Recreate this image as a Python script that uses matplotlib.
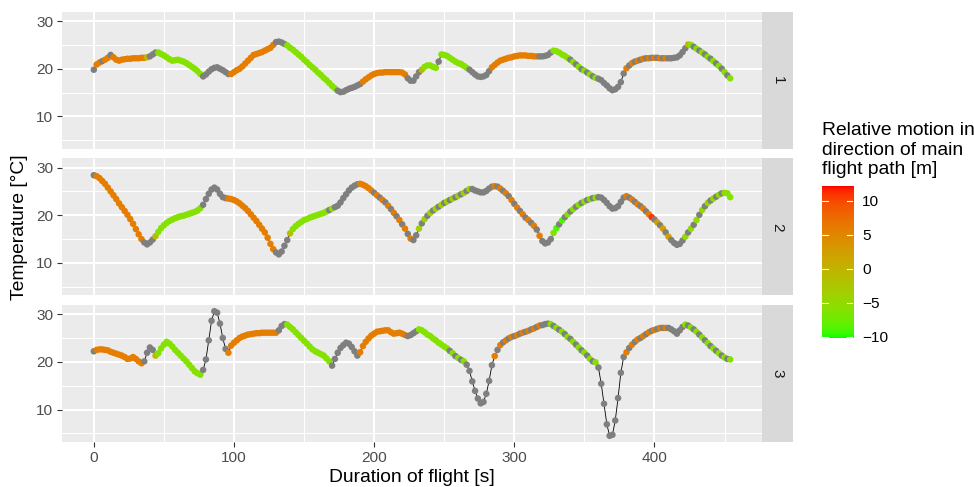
import numpy as np
import matplotlib
matplotlib.use("Agg")
import matplotlib.pyplot as plt
import matplotlib.colors as mcolors

plt.rcParams['font.family'] = ['Liberation Sans', 'DejaVu Sans']

# ---------------- data ----------------
time_s = list(range(0, 455, 2))
flights = ["1", "2", "3"]

temp_1 = [19.8, 20.9, 21.3, 21.6, 21.9, 22.3, 22.9, 22.4, 21.9, 21.7, 21.9, 22.0, 22.1, 22.1, 22.2, 22.2,
          22.2, 22.3, 22.3, 22.4, 22.6, 23.0, 23.4, 23.4, 23.1, 22.8, 22.4, 22.0, 21.7, 21.8, 21.9, 21.7,
          21.5, 21.2, 20.8, 20.4, 20.0, 19.5, 18.9, 18.4, 18.8, 19.4, 19.9, 20.2, 20.3, 20.0, 19.7, 19.3,
          18.9, 18.9, 19.3, 19.7, 20.0, 20.5, 21.1, 21.7, 22.3, 22.9, 23.1, 23.3, 23.5, 23.8, 24.1, 24.4,
          25.0, 25.6, 25.7, 25.5, 25.2, 24.9, 24.4, 24.0, 23.5, 23.0, 22.5, 21.9, 21.4, 20.8, 20.3, 19.8,
          19.2, 18.7, 18.1, 17.6, 17.0, 16.4, 15.9, 15.4, 15.1, 15.2, 15.5, 15.8, 16.0, 16.2, 16.5, 16.8,
          17.3, 17.8, 18.2, 18.6, 18.9, 19.1, 19.2, 19.2, 19.3, 19.3, 19.3, 19.3, 19.3, 19.3, 19.2, 18.8,
          18.0, 17.5, 17.5, 18.4, 19.3, 19.8, 20.4, 20.7, 20.7, 20.4, 20.2, 21.5, 23.0, 22.9, 22.7, 22.3,
          21.9, 21.5, 21.2, 21.0, 20.6, 20.2, 19.8, 19.3, 18.8, 18.4, 18.3, 18.4, 18.7, 19.5, 20.3, 20.8,
          21.3, 21.7, 21.9, 22.1, 22.3, 22.4, 22.6, 22.7, 22.8, 22.8, 22.8, 22.7, 22.7, 22.6, 22.6, 22.6,
          22.6, 22.7, 22.9, 23.4, 23.8, 23.7, 23.4, 23.0, 22.7, 22.3, 21.9, 21.4, 20.9, 20.4, 19.9, 19.6,
          19.2, 18.8, 18.4, 18.1, 17.9, 17.6, 17.0, 16.5, 15.9, 15.5, 15.7, 16.2, 17.2, 19.0, 20.1, 20.7,
          21.2, 21.5, 21.7, 21.9, 22.1, 22.2, 22.2, 22.3, 22.3, 22.3, 22.2, 22.2, 22.2, 22.2, 22.2, 22.3,
          22.4, 22.8, 23.5, 24.3, 25.1, 25.0, 24.6, 24.2, 23.8, 23.4, 23.0, 22.5, 22.1, 21.6, 21.1, 20.6,
          20.0, 19.3, 18.6, 18.0]

temp_2 = [28.4, 28.2, 27.8, 27.2, 26.6, 25.8, 25.0, 24.2, 23.4, 22.5, 21.7, 20.9, 20.1, 19.2, 18.2, 17.1,
          16.0, 15.0, 14.3, 13.9, 14.3, 14.9, 15.6, 16.5, 17.3, 17.9, 18.4, 18.8, 19.1, 19.4, 19.6, 19.8,
          19.9, 20.1, 20.3, 20.5, 20.7, 21.0, 21.5, 22.2, 23.4, 24.5, 25.4, 25.8, 25.4, 24.5, 23.8, 23.6,
          23.5, 23.4, 23.2, 22.9, 22.5, 22.0, 21.5, 20.9, 20.2, 19.5, 18.8, 18.0, 17.2, 16.4, 15.3, 14.0,
          12.9, 12.2, 11.8, 12.4, 13.6, 14.8, 16.2, 17.1, 17.7, 18.2, 18.6, 19.0, 19.2, 19.5, 19.7, 19.9,
          20.1, 20.3, 20.5, 20.8, 21.1, 21.4, 21.7, 22.0, 22.7, 23.6, 24.4, 25.2, 25.8, 26.2, 26.5, 26.6,
          26.4, 26.1, 25.7, 25.2, 24.7, 24.2, 23.7, 23.2, 22.7, 22.0, 21.3, 20.5, 19.8, 19.0, 18.1, 17.2,
          16.1, 15.1, 14.8, 15.8, 17.2, 18.3, 19.2, 19.9, 20.5, 21.0, 21.4, 21.8, 22.2, 22.6, 22.9, 23.2,
          23.5, 23.8, 24.1, 24.4, 24.7, 25.1, 25.5, 25.5, 25.2, 25.0, 24.8, 24.8, 25.1, 25.6, 26.0, 26.1,
          26.0, 25.6, 25.1, 24.6, 24.0, 23.2, 22.4, 21.6, 20.9, 20.2, 19.5, 19.0, 18.4, 17.8, 17.0, 15.7,
          14.6, 14.1, 14.3, 15.0, 16.3, 17.3, 18.1, 18.9, 19.6, 20.2, 20.8, 21.3, 21.8, 22.2, 22.6, 22.9,
          23.2, 23.4, 23.6, 23.7, 23.8, 23.7, 23.2, 22.6, 21.9, 21.4, 21.5, 21.9, 22.8, 23.7, 24.0, 23.7,
          23.3, 22.8, 22.3, 21.9, 21.4, 20.8, 20.2, 19.6, 19.1, 18.5, 17.9, 17.2, 16.4, 15.5, 14.8, 14.2,
          13.8, 14.0, 14.7, 15.5, 16.4, 17.2, 18.0, 19.0, 20.1, 21.1, 21.9, 22.6, 23.1, 23.5, 23.9, 24.3,
          24.6, 24.7, 24.6, 23.8]

temp_3 = [22.2, 22.5, 22.6, 22.6, 22.5, 22.4, 22.1, 21.9, 21.7, 21.5, 21.3, 21.0, 20.6, 20.7, 21.0, 20.6,
          20.1, 19.7, 20.1, 21.9, 23.0, 22.5, 21.3, 21.8, 22.8, 23.6, 24.2, 23.8, 23.2, 22.5, 21.9, 21.3,
          20.7, 20.1, 19.4, 18.7, 18.0, 17.6, 17.3, 18.3, 20.5, 24.5, 28.6, 30.6, 30.3, 28.0, 25.0, 22.7,
          21.9, 23.4, 24.0, 24.5, 25.0, 25.3, 25.5, 25.7, 25.8, 25.9, 26.0, 26.0, 26.1, 26.1, 26.1, 26.1,
          26.1, 26.1, 26.6, 27.5, 27.9, 27.8, 27.3, 26.8, 26.2, 25.6, 25.0, 24.4, 23.8, 23.2, 22.6, 22.2,
          21.9, 21.6, 21.3, 20.7, 20.1, 19.2, 20.6, 21.9, 22.9, 23.5, 24.0, 23.8, 23.1, 22.2, 21.3, 22.0,
          23.3, 24.2, 24.9, 25.5, 25.9, 26.3, 26.4, 26.5, 26.6, 26.6, 26.2, 25.9, 26.0, 26.1, 25.9, 25.6,
          25.4, 25.6, 26.0, 26.4, 26.8, 26.6, 26.2, 25.7, 25.4, 24.9, 24.5, 24.0, 23.6, 23.2, 22.8, 22.3,
          21.8, 21.2, 20.8, 20.4, 20.1, 19.4, 18.1, 15.9, 13.9, 12.3, 11.3, 11.6, 13.3, 16.0, 19.3, 21.2,
          22.5, 23.5, 24.1, 24.5, 24.9, 25.2, 25.4, 25.6, 25.9, 26.1, 26.3, 26.5, 26.8, 27.0, 27.3, 27.6,
          27.7, 27.9, 28.0, 27.9, 27.5, 27.1, 26.7, 26.3, 25.8, 25.2, 24.8, 24.2, 23.6, 23.0, 22.4, 21.9,
          21.3, 20.6, 20.1, 19.9, 18.8, 15.4, 11.2, 6.9, 4.5, 4.7, 7.7, 12.4, 17.7, 21.0, 22.0, 22.9,
          23.6, 24.2, 24.7, 25.0, 25.4, 25.8, 26.2, 26.5, 26.7, 26.9, 27.1, 27.1, 27.1, 27.1, 26.8, 26.4,
          25.9, 26.6, 27.3, 27.8, 27.6, 27.2, 26.8, 26.3, 25.7, 25.1, 24.5, 23.9, 23.3, 22.8, 22.3, 21.8,
          21.3, 20.9, 20.6, 20.5]

# relative motion [m], run-length coded: (number of samples, repeating pattern); None = missing
motion_1 = [(1, (None,)), (2, (6,)), (1, (None,)), (2, (6,)), (1, (None,)), (12, (6,)), (1, (-1,)),
            (3, (None,)), (16, (-6,)), (10, (None,)), (16, (6,)), (4, (None,)), (18, (-6,)), (9, (None,)),
            (16, (6,)), (5, (None,)), (1, (-1,)), (5, (-6,)), (1, (None,)), (10, (-6,)), (8, (None,)),
            (17, (6,)), (5, (None,)), (5, (-6,)), (12, (-6, None)), (9, (None,)), (16, (6, None)),
            (6, (None,)), (1, (-1,)), (15, (-6, None))]
motion_2 = [(1, (None,)), (17, (6,)), (4, (None,)), (1, (-1,)), (16, (-6,)), (9, (None,)), (17, (6,)),
            (5, (None,)), (1, (-1,)), (12, (-6,)), (4, (-6, None)), (8, (None,)), (4, (6,)), (15, (6, None)),
            (2, (None,)), (19, (-4, None)), (8, (None,)), (17, (6, None)), (4, (None,)), (1, (-6,)),
            (1, (-9,)), (1, (None,)), (1, (-9,)), (1, (None,)), (12, (-6, None)), (9, (None,)),
            (9, (6, None)), (1, (11,)), (1, (None,)), (5, (2, None)), (5, (None,)), (15, (-5, None)),
            (2, (-6,))]
motion_3 = [(1, (None,)), (17, (6,)), (4, (None,)), (1, (-1,)), (16, (-6,)), (9, (None,)), (18, (6,)),
            (3, (None,)), (16, (-6,)), (10, (None,)), (17, (6,)), (4, (None,)), (10, (-6,)),
            (8, (-6, None)), (9, (None,)), (17, (6, None)), (3, (None,)), (17, (-6, None)), (10, (None,)),
            (15, (6, None)), (6, (None,)), (17, (-6, None))]

motion_limits = (-10.15, 12.2)
colorbar_ticks = [-10, -5, 0, 5, 10]
x_ticks = [0, 100, 200, 300, 400]
y_ticks = [10, 20, 30]

# ---------------- helpers ----------------
M = np.array([[0.4124, 0.3576, 0.1805], [0.2126, 0.7152, 0.0722], [0.0193, 0.1192, 0.9505]])
WHITE = np.array([0.95047, 1.0, 1.08883])


def hex_to_lab(h):
    rgb = np.array(mcolors.to_rgb(h))
    lin = np.where(rgb <= 0.04045, rgb / 12.92, ((rgb + 0.055) / 1.055) ** 2.4)
    r = (M @ lin) / WHITE
    f = np.where(r > 216 / 24389, np.cbrt(r), (24389 / 27 * r + 16) / 116)
    return np.array([116 * f[1] - 16, 500 * (f[0] - f[1]), 200 * (f[1] - f[2])])


def lab_to_rgb(lab):
    L, a, b = lab[:, 0], lab[:, 1], lab[:, 2]
    fy = (L + 16) / 116
    fx = fy + a / 500
    fz = fy - b / 200

    def finv(f):
        return np.where(f ** 3 > 216 / 24389, f ** 3, (116 * f - 16) / (24389 / 27))
    xyz = np.stack([finv(fx), finv(fy), finv(fz)], axis=1) * WHITE
    lin = np.clip(xyz @ np.linalg.inv(M).T, 0, 1)
    rgb = np.where(lin <= 0.0031308, 12.92 * lin, 1.055 * lin ** (1 / 2.4) - 0.055)
    return np.clip(rgb, 0, 1)


lab_lo, lab_hi = hex_to_lab("#00FF00"), hex_to_lab("#FF0000")
tt = np.linspace(0, 1, 256)[:, None]
cmap = mcolors.ListedColormap(lab_to_rgb(lab_lo + tt * (lab_hi - lab_lo)))
norm = mcolors.Normalize(*motion_limits)
NA_COL = "#7F7F7F"


def expand(runs):
    out = []
    for n, pat in runs:
        for i in range(n):
            v = pat[i % len(pat)]
            out.append(np.nan if v is None else v)
    return np.array(out, dtype=float)


# ---------------- figure ----------------
W, H = 974, 487
fig = plt.figure(figsize=(W / 100, H / 100), dpi=100)


def rect(x0, y0, x1, y1):
    return [x0 / W, 1 - y1 / H, (x1 - x0) / W, (y1 - y0) / H]


panel_px = [(62, 12, 762, 148.9), (62, 158.5, 762, 295.4), (62, 305, 762, 442)]
temps = [temp_1, temp_2, temp_3]
motions = [motion_1, motion_2, motion_3]

all_t = np.concatenate([np.array(t) for t in temps])
ymin, ymax = all_t.min(), all_t.max()
ypad = 0.05 * (ymax - ymin)
xs = np.array(time_s, dtype=float)
xpad = 0.05 * (xs.max() - xs.min())

TICK_PT = 2.75 * 1.26
PAD_PT = 2.2 * 1.26

for i, (fl, temp, mot) in enumerate(zip(flights, temps, motions)):
    x0, y0, x1, y1 = panel_px[i]
    ax = fig.add_axes(rect(x0, y0, x1, y1))
    ax.set_facecolor("#EBEBEB")
    for s in ax.spines.values():
        s.set_visible(False)
    ax.set_xlim(xs.min() - xpad, xs.max() + xpad)
    ax.set_ylim(ymin - ypad, ymax + ypad)
    ax.set_xticks(x_ticks)
    ax.set_yticks(y_ticks)
    ax.set_xticks([50, 150, 250, 350, 450], minor=True)
    ax.set_yticks([5, 15, 25], minor=True)
    ax.grid(which="major", color="white", lw=1.45)
    ax.grid(which="minor", color="white", lw=0.72)
    ax.set_axisbelow(True)
    ax.tick_params(which="minor", length=0)
    ax.tick_params(which="major", length=TICK_PT, width=0.8, color="#333333",
                   labelsize=11.1, labelcolor="#4D4D4D", pad=PAD_PT)
    if i < 2:
        ax.tick_params(axis="x", which="major", length=0, labelbottom=False)

    y = np.array(temp, dtype=float)
    m = expand(mot)
    assert len(y) == len(xs) and len(m) == len(xs)
    cols = [NA_COL if np.isnan(v) else cmap(norm(v)) for v in m]
    ax.plot(xs, y, color="black", lw=0.6, zorder=2)
    ax.scatter(xs, y, c=cols, s=22, linewidths=0, zorder=3)

    sax = fig.add_axes(rect(762, y0, 793, y1))
    sax.set_facecolor("#D9D9D9")
    sax.set_xticks([])
    sax.set_yticks([])
    for s in sax.spines.values():
        s.set_visible(False)
    sax.text(0.5, 0.5, fl, rotation=-90, ha="center", va="center",
             fontsize=11.1, color="#1A1A1A", transform=sax.transAxes)

fig.text(412 / W, 1 - 477 / H, "Duration of flight [s]", ha="center", va="center", fontsize=13.9)
fig.text(20 / W, 1 - 227 / H, "Temperature [°C]", ha="center", va="center", rotation=90, fontsize=13.9)

# colour bar legend
cax = fig.add_axes(rect(822, 186, 853, 338))
lo, hi = motion_limits
grad = np.linspace(lo, hi, 400)[:, None]
cax.imshow(grad, extent=[0, 1, lo, hi], origin="lower", aspect="auto", cmap=cmap, norm=norm)
cax.set_xlim(0, 1)
cax.set_ylim(lo, hi)
for s in cax.spines.values():
    s.set_visible(False)
cax.set_xticks([])
cax.yaxis.tick_right()
cax.set_yticks(colorbar_ticks)
cax.tick_params(axis="y", length=0, pad=6.5, labelsize=11.1, labelcolor="black")
for v in colorbar_ticks:
    cax.plot([0, 0.2], [v, v], color="white", lw=0.8)
    cax.plot([0.8, 1.0], [v, v], color="white", lw=0.8)

fig.text(822 / W, 1 - 122 / H, "Relative motion in\ndirection of main\nflight path [m]",
         ha="left", va="top", fontsize=13.9, linespacing=1.2)

fig.savefig("out.png", dpi=100)
